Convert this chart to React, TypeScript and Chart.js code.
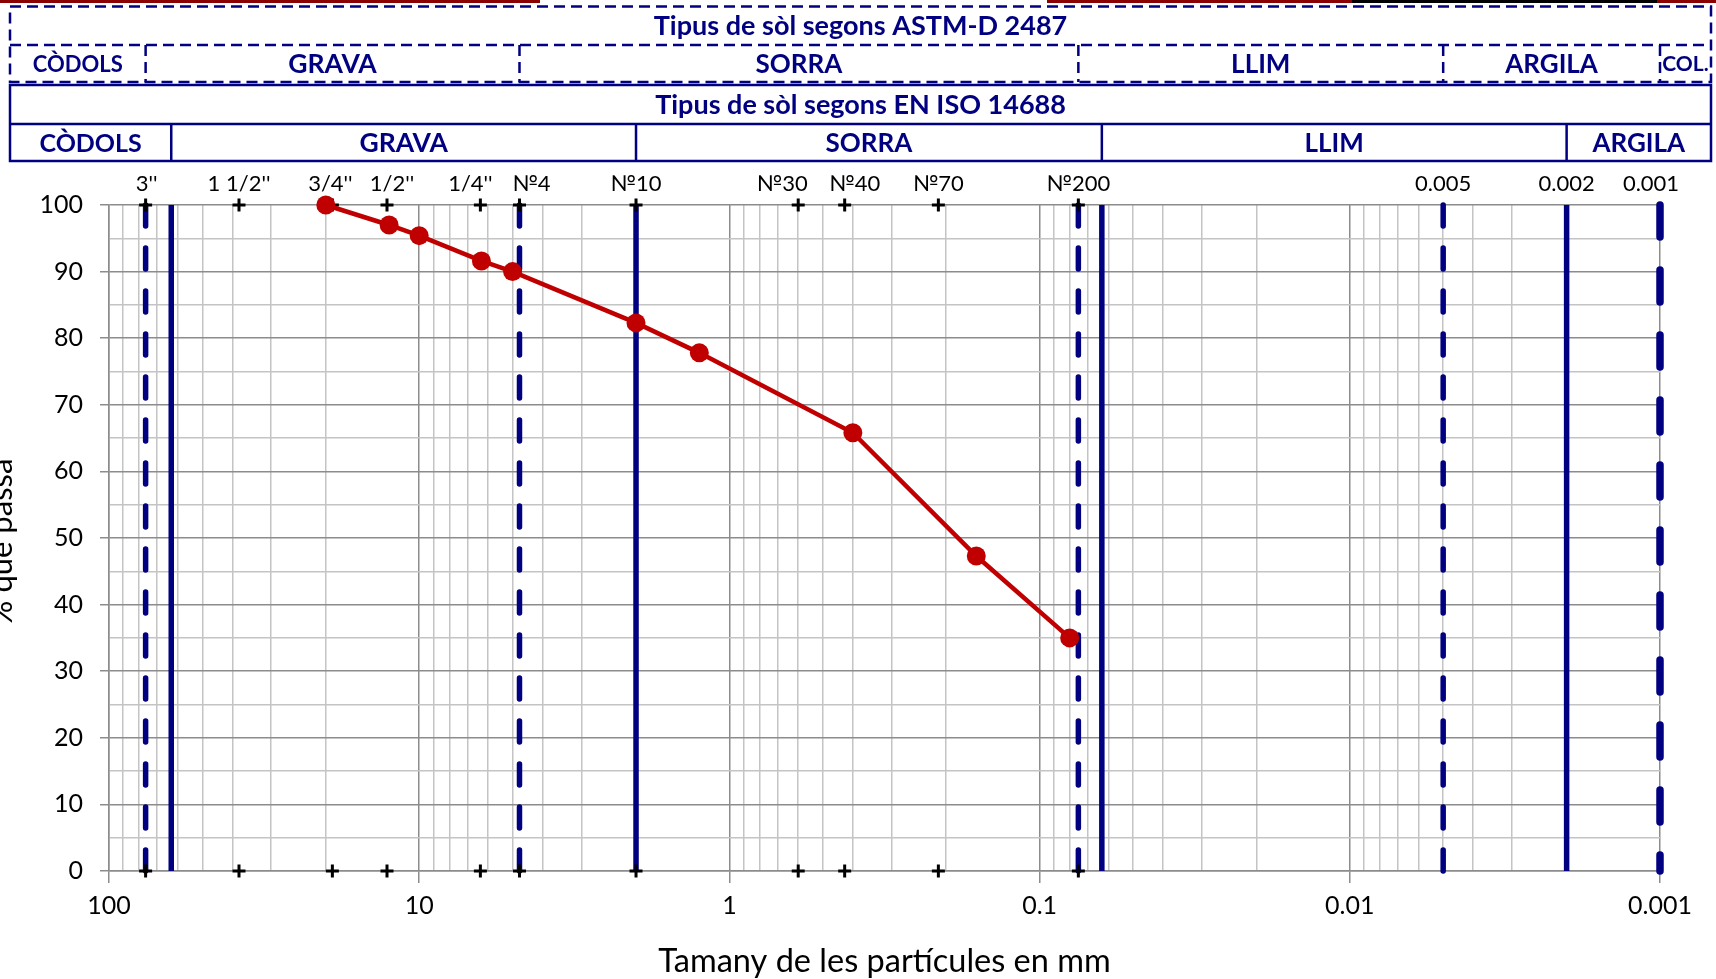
import React, { useEffect, useRef } from 'react';
import { Chart, registerables } from 'chart.js';

Chart.register(...registerables);

// ---------- data ----------
const PARTICLE_SIZE_MM = [20, 12.5, 10, 6.3, 5, 2, 1.25, 0.4, 0.16, 0.08];
const PERCENT_PASSING = [100, 97.0, 95.4, 91.6, 90.0, 82.3, 77.8, 65.8, 47.3, 35.0];

const SIEVE_SIZES_MM = [76.2, 38.1, 19.05, 12.7, 6.35, 4.75, 2.0, 0.6, 0.425, 0.212, 0.075];
const SIEVE_LABELS = ["3''", "1 1/2''", "3/4''", "1/2''", "1/4''", "№4", "№10", "№30", "№40", "№70", "№200"];
const FINE_SIZES_MM = [0.005, 0.002, 0.001];
const FINE_LABELS = ['0.005', '0.002', '0.001'];

const ASTM_LIMITS_MM = [76.2, 4.75, 0.075, 0.005];
const ASTM_COLLOID_LIMIT_MM = [0.001];
const ASTM_CLASSES = ['CÒDOLS', 'GRAVA', 'SORRA', 'LLIM', 'ARGILA', 'COL.'];
const ISO_LIMITS_MM = [63, 2, 0.063, 0.002];
const ISO_CLASSES = ['CÒDOLS', 'GRAVA', 'SORRA', 'LLIM', 'ARGILA'];

const X_TICK_LABELS = [100, 10, 1, 0.1, 0.01, 0.001];
const X_MINOR_MULTIPLES = [2, 3, 4, 5, 6, 7, 8, 9];
const Y_MIN = 0;
const Y_MAX = 100;
const Y_GRID_STEP = 5;
const Y_LABEL_STEP = 10;

const ASTM_TITLE = 'Tipus de sòl segons ASTM-D 2487';
const ISO_TITLE = 'Tipus de sòl segons EN ISO 14688';
const X_TITLE = 'Tamany de les partícules en mm';
const Y_TITLE = '% que passa';

// ---------- styles ----------
const NAVY = '#000080';
const RED = '#C00000';
const GRID_MAJOR = '#8c8c8c';
const GRID_MINOR = '#c4c4c4';
const FONT = 'Lato, "Open Sans", sans-serif';
// small horizontal nudges (px) of the sieve captions, as placed in the original
const SIEVE_LABEL_NUDGE = [1, 0, -2, 5, -10, 12, 0, -16, 10, 0, 0];

const isDecade = (v: number) => X_TICK_LABELS.some((d) => Math.abs(v / d - 1) < 1e-6);

function buildXTicks() {
  const decades = [...X_TICK_LABELS].sort((a, b) => a - b);
  const out: { value: number; major: boolean }[] = [];
  decades.forEach((d, i) => {
    out.push({ value: d, major: true });
    if (i < decades.length - 1) {
      X_MINOR_MULTIPLES.forEach((m) => out.push({ value: +(d * m).toPrecision(6), major: false }));
    }
  });
  return out;
}

function drawTable(
  ctx: CanvasRenderingContext2D,
  o: {
    left: number; right: number; top: number; mid: number; bottom: number;
    xs: number[]; dashed: boolean; title: string; names: string[]; sizes: number[]; titleSize: number;
  }
) {
  ctx.save();
  ctx.strokeStyle = NAVY;
  ctx.lineWidth = 2.5;
  ctx.setLineDash(o.dashed ? [11, 6] : []);
  ctx.strokeRect(o.left, o.top, o.right - o.left, o.bottom - o.top);
  ctx.beginPath();
  ctx.moveTo(o.left, o.mid);
  ctx.lineTo(o.right, o.mid);
  o.xs.forEach((x) => {
    ctx.moveTo(x, o.mid);
    ctx.lineTo(x, o.bottom);
  });
  ctx.stroke();
  ctx.setLineDash([]);
  ctx.fillStyle = NAVY;
  ctx.textAlign = 'center';
  ctx.textBaseline = 'middle';
  ctx.font = `bold ${o.titleSize}px ${FONT}`;
  ctx.fillText(o.title, (o.left + o.right) / 2, (o.top + o.mid) / 2 + 1);
  const edges = [o.left, ...o.xs, o.right];
  o.names.forEach((n, i) => {
    ctx.font = `bold ${o.sizes[i]}px ${FONT}`;
    ctx.fillText(n, (edges[i] + edges[i + 1]) / 2, (o.mid + o.bottom) / 2 + 1);
  });
  ctx.restore();
}

const decorPlugin = {
  id: 'decor',
  afterDraw(chart: any) {
    const ctx: CanvasRenderingContext2D = chart.ctx;
    const xs = chart.scales.x;
    const area = chart.chartArea;
    const W = chart.width;

    // clipped fragments of boxes above
    ctx.save();
    ctx.lineWidth = 3;
    const seg = (x1: number, x2: number, c: string) => {
      ctx.strokeStyle = c;
      ctx.beginPath();
      ctx.moveTo(x1, 1.5);
      ctx.lineTo(x2, 1.5);
      ctx.stroke();
    };
    seg(0, 540, '#8B0000');
    seg(1047, 1352, '#8B0000');
    seg(1352, 1657, '#000000');
    seg(1657, W, '#8B0000');
    ctx.restore();

    const left = 10;
    const right = W - 5;
    drawTable(ctx, {
      left, right, top: 6.5, mid: 45, bottom: 82,
      xs: [...ASTM_LIMITS_MM, ...ASTM_COLLOID_LIMIT_MM].map((v) => xs.getPixelForValue(v)),
      dashed: true, title: ASTM_TITLE, names: ASTM_CLASSES,
      sizes: [22, 26.5, 26, 26, 26, 21], titleSize: 27,
    });
    drawTable(ctx, {
      left, right, top: 85, mid: 124, bottom: 161,
      xs: ISO_LIMITS_MM.map((v) => xs.getPixelForValue(v)),
      dashed: false, title: ISO_TITLE, names: ISO_CLASSES,
      sizes: [25, 26.5, 26, 26, 26], titleSize: 27,
    });

    // sieve captions above the plot
    ctx.save();
    ctx.fillStyle = '#000';
    ctx.textAlign = 'center';
    ctx.textBaseline = 'middle';
    ctx.font = `22px ${FONT}`;
    SIEVE_SIZES_MM.forEach((v, i) =>
      ctx.fillText(SIEVE_LABELS[i], xs.getPixelForValue(v) + SIEVE_LABEL_NUDGE[i], 184)
    );
    FINE_SIZES_MM.forEach((v, i) => {
      const px = xs.getPixelForValue(v);
      ctx.fillText(FINE_LABELS[i], Math.min(px, area.right - 9), 184);
    });

    // axis titles
    ctx.font = `32.5px ${FONT}`;
    ctx.textBaseline = 'alphabetic';
    ctx.fillText(X_TITLE, (area.left + area.right) / 2, 972);
    ctx.font = `31px ${FONT}`;
    ctx.translate(12, (area.top + area.bottom) / 2 + 4);
    ctx.rotate(-Math.PI / 2);
    ctx.fillText(Y_TITLE, 0, 0);
    ctx.restore();
  },
};

export default function App() {
  const ref = useRef<HTMLCanvasElement | null>(null);

  useEffect(() => {
    if (!ref.current) return;
    Chart.defaults.font.family = FONT;

    const vline = (v: number, dash: number[], width: number) => ({
      data: [{ x: v, y: Y_MAX }, { x: v, y: Y_MIN }],
      showLine: true,
      borderColor: NAVY,
      borderWidth: width,
      borderDash: dash,
      borderCapStyle: dash.length ? 'round' : 'butt',
      pointRadius: 0,
      pointHoverRadius: 0,
      clip: false,
    });

    const crosses = [
      ...SIEVE_SIZES_MM.map((x) => ({ x, y: Y_MAX })),
      ...SIEVE_SIZES_MM.map((x) => ({ x, y: Y_MIN })),
    ];

    const chart = new Chart(ref.current, {
      type: 'scatter',
      data: {
        datasets: [
          {
            data: PARTICLE_SIZE_MM.map((x, i) => ({ x, y: PERCENT_PASSING[i] })),
            showLine: true,
            borderColor: RED,
            borderWidth: 4.5,
            pointRadius: 9.5,
            pointBackgroundColor: RED,
            pointBorderColor: RED,
            pointBorderWidth: 0,
            clip: false,
          },
          {
            data: crosses,
            pointStyle: 'cross',
            pointRadius: 6.5,
            pointBorderWidth: 3,
            pointBorderColor: '#000',
            pointBackgroundColor: '#000',
            clip: false,
          },
          ...ASTM_LIMITS_MM.map((v) => vline(v, [21, 22], 5.5)),
          ...ASTM_COLLOID_LIMIT_MM.map((v) => vline(v, [32, 33], 7.5)),
          ...ISO_LIMITS_MM.map((v) => vline(v, [], 5.5)),
        ] as any,
      },
      options: {
        animation: false,
        responsive: true,
        maintainAspectRatio: false,
        events: [],
        layout: { padding: { left: 0, right: 56, top: 205, bottom: 0 } },
        plugins: {
          legend: { display: false },
          tooltip: { enabled: false },
          title: { display: false },
        },
        scales: {
          x: {
            type: 'logarithmic',
            reverse: true,
            min: 0.001,
            max: 100,
            afterBuildTicks: (scale: any) => {
              scale.ticks = buildXTicks();
            },
            afterFit: (scale: any) => {
              scale.height = 108;
            },
            ticks: {
              autoSkip: false,
              maxRotation: 0,
              minRotation: 0,
              padding: 8,
              color: '#000',
              font: { size: 25 },
              callback: (v: any) => {
                const d = X_TICK_LABELS.find((t) => Math.abs(Number(v) / t - 1) < 1e-6);
                return d === undefined ? '' : String(d);
              },
            },
            grid: {
              color: (c: any) => (c.tick && isDecade(c.tick.value) ? GRID_MAJOR : GRID_MINOR),
              tickColor: (c: any) => (c.tick && isDecade(c.tick.value) ? GRID_MAJOR : 'rgba(0,0,0,0)'),
              lineWidth: 1.5,
              tickLength: 12,
            },
            border: { color: GRID_MAJOR, width: 1.5 },
          },
          y: {
            type: 'linear',
            min: Y_MIN,
            max: Y_MAX,
            afterFit: (scale: any) => {
              scale.width = 109;
            },
            ticks: {
              stepSize: Y_GRID_STEP,
              autoSkip: false,
              padding: 17,
              color: '#000',
              font: { size: 25 },
              callback: (v: any) => (Number(v) % Y_LABEL_STEP === 0 ? String(v) : ''),
            },
            grid: {
              color: (c: any) => (c.tick && c.tick.value % Y_LABEL_STEP === 0 ? GRID_MAJOR : GRID_MINOR),
              tickColor: (c: any) => (c.tick && c.tick.value % Y_LABEL_STEP === 0 ? GRID_MAJOR : 'rgba(0,0,0,0)'),
              lineWidth: 1.5,
              tickLength: 9,
            },
            border: { color: GRID_MAJOR, width: 1.5 },
          },
        },
      } as any,
      plugins: [decorPlugin],
    });

    return () => chart.destroy();
  }, []);

  return (
    <div style={{ position: 'absolute', left: 0, top: 0, width: 1716, height: 979, background: '#fff' }}>
      <canvas ref={ref} />
    </div>
  );
}
